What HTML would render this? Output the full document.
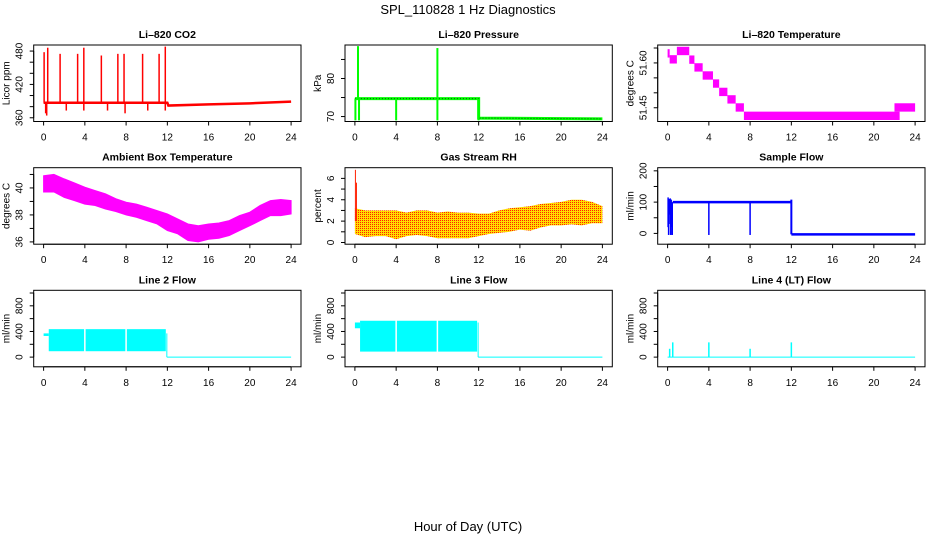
<!DOCTYPE html>
<html><head><meta charset="utf-8">
<style>
html,body{margin:0;padding:0;background:#fff;}
svg{display:block;font-family:"Liberation Sans",Arial,sans-serif;}
</style></head>
<body>
<svg id="chart" width="936" height="540" viewBox="0 0 936 540" xmlns="http://www.w3.org/2000/svg">
<defs>
<pattern id="rhpat" width="2" height="2" patternUnits="userSpaceOnUse">
<rect width="2" height="2" fill="#ffdd00"/><rect width="1" height="1" fill="#ff2000"/>
</pattern>
</defs>
<text x="468" y="14" text-anchor="middle" font-size="13">SPL_110828  1 Hz Diagnostics</text>
<text x="468" y="531" text-anchor="middle" font-size="13">Hour of Day (UTC)</text>
</svg>
<script>
// ---- data ----
const xTicks = [0,4,8,12,16,20,24];
const co2BaseH = [0,12,12.1,16,20,24];
const co2BaseV = [387,387,382,384,386,389];
const co2SpikeH = [0.05,0.4,1.6,3.3,3.9,5.6,7.2,7.8,9.6,11.2,11.8];
const co2SpikeV = [478,486,475,475,486,472,475,475,475,475,488];
const co2DipH = [0.2,0.3,2.2,3.9,6.2,7.9,10.1,11.8];
const co2DipV = [368,364,373,373,373,368,373,373];
const presBaseH = [0,12,12,24];
const presBaseV = [74.7,74.7,69.6,69.4];
const presSpikeH = [0.3,8];
const presSpikeV = [88.5,88];
const presDipH = [0.05,0.4,4,8,12];
const presDipV = [69,69,69,69,69];
const tempStart = [0,0.2,0.9,2.1,2.6,3.4,4.4,5.0,5.8,6.6,7.4,22.0];
const tempEnd = [0.2,0.9,2.1,2.6,3.4,4.4,5.0,5.8,6.6,7.4,22.5,24];
const tempVal = [51.632,51.612,51.64,51.611,51.585,51.558,51.531,51.503,51.478,51.451,51.423,51.451];
const ambHours = [0,1,2,3,4,5,6,7,8,9,10,11,12,13,14,15,16,17,18,19,20,21,22,23,24];
const ambUpper = [40.9,41.0,40.67,40.37,40.05,39.8,39.56,39.2,38.94,38.8,38.57,38.32,38.07,37.7,37.33,37.2,37.33,37.4,37.58,37.95,38.2,38.7,39.06,39.14,39.06];
const ambLower = [39.7,39.7,39.3,39.06,38.8,38.7,38.44,38.25,38.0,37.83,37.58,37.33,36.84,36.6,36.1,36.0,36.2,36.27,36.47,36.84,37.2,37.58,37.95,37.95,38.07];
const rhHours = [0,1,2,3,4,5,6,7,8,9,10,11,12,13,14,15,16,17,18,19,20,21,22,23,24];
const rhUpper = [3.2,3.0,3.0,3.0,3.0,2.8,3.0,3.0,2.8,2.9,2.8,2.8,2.7,2.7,3.0,3.2,3.3,3.4,3.6,3.7,3.8,4.0,4.0,3.8,3.4];
const rhLower = [0.8,0.5,0.6,0.6,0.3,0.6,0.7,0.6,0.4,0.4,0.4,0.4,0.6,0.8,0.9,1.0,1.2,1.1,1.4,1.6,1.6,1.7,1.6,1.8,1.8];
const rhSpikeH = [0.05,0.15];
const rhSpikeV = [6.8,5.6];
const sampleOnH = [0.5,12];
const sampleOnV = [100,100];
const sampleOffV = -3;
const sampleDipH = [0.1,0.3,0.45,4,8];
const sampleDipV = [-5,-5,-5,-5,-5];
const sampleEarlyH = [0.05,0.15,0.25,0.35];
const sampleEarlyLo = [20,60,30,20];
const sampleEarlyHi = [115,110,112,108];
const flowGapH = [4,8];
const line2Start = [330,370];
const line2Band = [92,436];
const line3Start = [450,540];
const line3Band = [86,567];
const line4SpikeH = [0.2,0.5,4,8,12];
const line4SpikeV = [130,230,230,130,230];

// ---- layout ----
const NS = "http://www.w3.org/2000/svg";
const svg = document.getElementById('chart');
const colL = [33.7,345,657.7], W = 267.3;
const rowT = [45,167.7,290.3], H = 76.5;
function mk(tag, a, p){const e=document.createElementNS(NS,tag);for(const k in a)e.setAttribute(k,a[k]);(p||svg).appendChild(e);return e;}

function panel(name, col, row, title, ylab, ylim, yticks, ylabels){
  const L=colL[col], T=rowT[row];
  const g=mk('g',{});
  
  
  const sx=h=>L+9.9+h*(W-19.8)/24;
  const sy=v=>T+H-(v-ylim[0])/(ylim[1]-ylim[0])*H;
  const plot=mk('g',{},g);
  
  
  const box=mk('rect',{x:L,y:T,width:W,height:H,fill:'none',stroke:'#000','stroke-width':1},g);
  
  
  const t=mk('text',{x:L+W/2,y:T-7,'text-anchor':'middle','font-size':10.5,'font-weight':'bold'},g);
  t.textContent=title;
  
  
  const xa=mk('g',{},g);
  
  
  mk('line',{x1:sx(xTicks[0]),x2:sx(xTicks[xTicks.length-1]),y1:T+H,y2:T+H,stroke:'#000'},xa);
  xTicks.forEach(v=>{
    mk('line',{x1:sx(v),x2:sx(v),y1:T+H,y2:T+H+4,stroke:'#000'},xa);
    const l=mk('text',{x:sx(v),y:T+H+19,'text-anchor':'middle','font-size':10},xa);
    l.textContent=v;
    
    
  });
  const ya=mk('g',{},g);
  
  
  mk('line',{x1:L,x2:L,y1:sy(yticks[0]),y2:sy(yticks[yticks.length-1]),stroke:'#000'},ya);
  yticks.forEach(v=>mk('line',{x1:L-4,x2:L,y1:sy(v),y2:sy(v),stroke:'#000'},ya));
  ylabels.forEach(v=>{
    const y=sy(v), x=L-11;
    const l=mk('text',{x:x,y:y,'text-anchor':'middle','font-size':10,transform:`rotate(-90 ${x} ${y})`},ya);
    l.textContent=v;
    
    
  });
  const yx=L-24, yy=T+H/2;
  const yl=mk('text',{x:yx,y:yy,'text-anchor':'middle','font-size':10,transform:`rotate(-90 ${yx} ${yy})`},g);
  yl.textContent=ylab;
  
  
  return {sx,sy,plot};
}
function line(p,x1,y1,x2,y2,c,w,nm){
  const e=mk('line',{x1:x1,y1:y1,x2:x2,y2:y2,stroke:c,'stroke-width':w},p);
  
  
  return e;
}
function poly(p,pts,c,w,nm,fill){
  const e=mk(fill?'polygon':'polyline',{points:pts.map(q=>q.join(',')).join(' '),fill:fill||'none',stroke:c,'stroke-width':w},p);
  
  
  return e;
}
function baseAt(H_,V_,h){for(let i=0;i<H_.length-1;i++){if(h>=H_[i]&&h<=H_[i+1]){const f=(H_[i+1]-H_[i])?(h-H_[i])/(H_[i+1]-H_[i]):0;return V_[i]+f*(V_[i+1]-V_[i]);}}return V_[V_.length-1];}

// CO2
{const P=panel('co2',0,0,'Li\u2013820 CO2','Licor ppm',[353.3,490.9],[360,380,400,420,440,460,480],[360,420,480]);
 const red='#ff0000';
 poly(P.plot,co2BaseH.map((h,i)=>[P.sx(h),P.sy(co2BaseV[i])]),red,2.5,'co2-line');
 co2SpikeH.forEach((h,i)=>line(P.plot,P.sx(h),P.sy(baseAt(co2BaseH,co2BaseV,h)),P.sx(h),P.sy(co2SpikeV[i]),red,1.5,'co2-spike'));
 co2DipH.forEach((h,i)=>line(P.plot,P.sx(h),P.sy(baseAt(co2BaseH,co2BaseV,h)),P.sx(h),P.sy(co2DipV[i]),red,1.5,'co2-dip'));}

// Pressure
{const P=panel('pressure',1,0,'Li\u2013820 Pressure','kPa',[68.7,88.8],[70,75,80,85],[70,80]);
 const pts=presBaseH.map((h,i)=>[P.sx(h),P.sy(presBaseV[i])]);
 poly(P.plot,pts,'#00ff00',3,'pressure-line');
 const d=poly(P.plot,pts,'#114411',1,'pressure-dots'); d.setAttribute('stroke-dasharray','1,2');
 presSpikeH.forEach((h,i)=>line(P.plot,P.sx(h),P.sy(baseAt(presBaseH,presBaseV,h)),P.sx(h),P.sy(presSpikeV[i]),'#00ff00',2,'pressure-spike'));
 presDipH.forEach((h,i)=>line(P.plot,P.sx(h),P.sy(74.7),P.sx(h),P.sy(presDipV[i]),'#00ff00',2,'pressure-dip'));}

// Li-820 Temperature
{const P=panel('licor-temp',2,0,'Li\u2013820 Temperature','degrees C',[51.404,51.66],[51.45,51.5,51.55,51.6,51.65],['51.45','51.60']);
 tempStart.forEach((s,i)=>{const y1=P.sy(tempVal[i]+0.014),y2=P.sy(tempVal[i]-0.014);
  const r=mk('rect',{x:P.sx(s),y:y1,width:P.sx(tempEnd[i])-P.sx(s),height:y2-y1,fill:'#ff00ff'},P.plot);
  
  });}

// Ambient
{const P=panel('ambient-temp',0,1,'Ambient Box Temperature','degrees C',[35.83,41.5],[36,37,38,39,40,41],[36,38,40]);
 const pts=ambHours.map((h,i)=>[P.sx(h),P.sy(ambUpper[i])]).concat(ambHours.map((h,i)=>[P.sx(h),P.sy(ambLower[i])]).reverse());
 poly(P.plot,pts,'#ff00ff',1,'ambient-band','#ff00ff');}

// RH
{const P=panel('gas-rh',1,1,'Gas Stream RH','percent',[-0.16,7.0],[0,1,2,3,4,5,6],[0,2,4,6]);
 const pts=rhHours.map((h,i)=>[P.sx(h),P.sy(rhUpper[i])]).concat(rhHours.map((h,i)=>[P.sx(h),P.sy(rhLower[i])]).reverse());
 poly(P.plot,pts,'none',0,'rh-band','url(#rhpat)');
 rhSpikeH.forEach((h,i)=>line(P.plot,P.sx(h),P.sy(2),P.sx(h),P.sy(rhSpikeV[i]),'#ff2000',1,'rh-spike'));}

// Sample flow
{const P=panel('sample-flow',2,1,'Sample Flow','ml/min',[-34.5,210],[0,50,100,150,200],[0,100,200]);
 const b='#0000ff';
 const r=mk('rect',{x:P.sx(sampleOnH[0]),y:P.sy(sampleOnV[0]+4),width:P.sx(sampleOnH[1])-P.sx(sampleOnH[0]),height:P.sy(96)-P.sy(104),fill:b},P.plot);
 
 
 line(P.plot,P.sx(sampleOnH[1]),P.sy(sampleOnV[1]+8),P.sx(sampleOnH[1]),P.sy(sampleOffV),b,2,'sample-flow-drop');
 line(P.plot,P.sx(sampleOnH[1]),P.sy(sampleOffV),P.sx(24),P.sy(sampleOffV),b,2.5,'sample-flow-off');
 sampleDipH.forEach((h,i)=>line(P.plot,P.sx(h),P.sy(100),P.sx(h),P.sy(sampleDipV[i]),b,1.5,'sample-flow-dip'));
 sampleEarlyH.forEach((h,i)=>line(P.plot,P.sx(h),P.sy(sampleEarlyLo[i]),P.sx(h),P.sy(sampleEarlyHi[i]),b,1.5,'sample-flow-early'));}

// Line flows
function flowPanel(name,col,title,start,band){
 const P=panel(name,col,2,title,'ml/min',[-151,1042],[0,200,400,600,800,1000],[0,400,800]);
 const c='#00ffff';
 const s=mk('rect',{x:P.sx(0),y:P.sy(start[1]),width:P.sx(0.5)-P.sx(0),height:P.sy(start[0])-P.sy(start[1]),fill:c},P.plot);
 
 
 const r=mk('rect',{x:P.sx(0.5),y:P.sy(band[1]),width:P.sx(11.85)-P.sx(0.5),height:P.sy(band[0])-P.sy(band[1]),fill:c},P.plot);
 
 
 flowGapH.forEach(h=>line(P.plot,P.sx(h),P.sy(band[1]+5),P.sx(h),P.sy(band[0]-5),'#ffffff',1.5,name+'-gap'));
 line(P.plot,P.sx(11.95),P.sy(start[1]),P.sx(11.95),P.sy(0),c,1,name+'-drop');
 line(P.plot,P.sx(11.95),P.sy(0),P.sx(24),P.sy(0),c,1,name+'-off');
}
flowPanel('line2-flow',0,'Line 2 Flow',line2Start,line2Band);
flowPanel('line3-flow',1,'Line 3 Flow',line3Start,line3Band);
{const P=panel('line4-flow',2,2,'Line 4 (LT) Flow','ml/min',[-151,1042],[0,200,400,600,800,1000],[0,400,800]);
 line(P.plot,P.sx(0),P.sy(0),P.sx(24),P.sy(0),'#00ffff',1,'line4-base');
 line4SpikeH.forEach((h,i)=>line(P.plot,P.sx(h),P.sy(0),P.sx(h),P.sy(line4SpikeV[i]),'#00ffff',1.5,'line4-spike'));}
</script>
</body></html>
